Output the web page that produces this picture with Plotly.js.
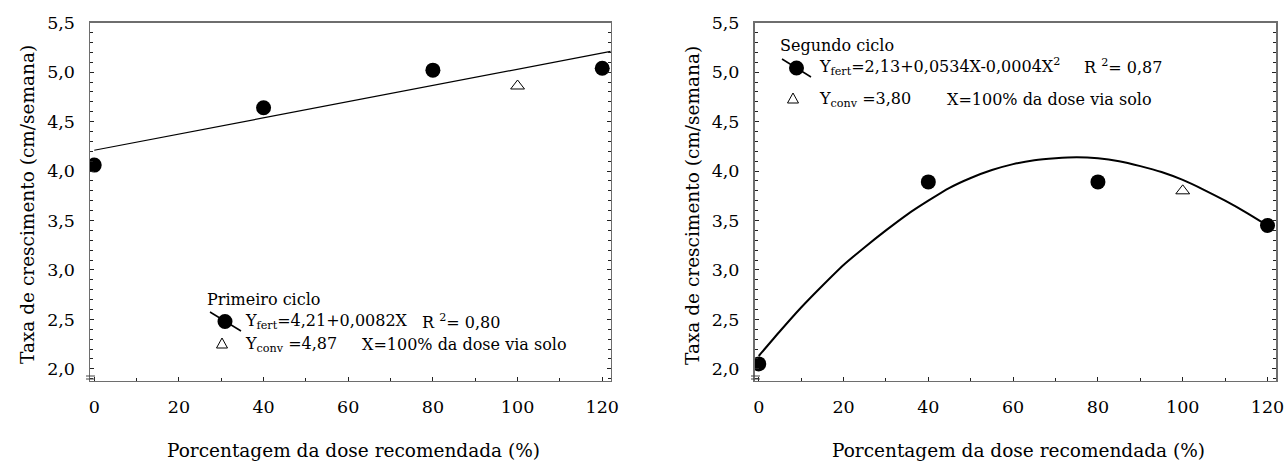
<!DOCTYPE html>
<html>
<head>
<meta charset="utf-8">
<script src="https://cdn.plot.ly/plotly-3.0.1.min.js"></script>
<style>html,body{margin:0;padding:0;background:#fff;}#chart{width:1286px;height:463px;}</style>
</head>
<body>
<div id="chart"></div>
<script>
// ---- data ----
const doses = [0, 40, 80, 120];
const fert1 = [4.06, 4.64, 5.02, 5.04];
const convDose = [100];
const conv1 = [4.86];
const fit1Dose = [0, 122];
const fit1 = [4.21, 5.21];

const fert2 = [2.05, 3.89, 3.89, 3.45];
const conv2 = [3.80];
const fit2Dose = [0, 5, 10, 15, 20, 25, 30, 35, 40, 45, 50, 55, 60, 65, 70, 75, 80, 85, 90, 95, 100, 105, 110, 115, 120];
const fit2 = [2.13, 2.38, 2.62, 2.84, 3.05, 3.23, 3.40, 3.56, 3.70, 3.83, 3.93, 4.01, 4.07, 4.11, 4.13, 4.14, 4.13, 4.10, 4.05, 3.99, 3.91, 3.81, 3.70, 3.58, 3.45];

const xTickVals = [0, 20, 40, 60, 80, 100, 120];
const yTickVals = [2.0, 2.5, 3.0, 3.5, 4.0, 4.5, 5.0, 5.5];
const yTickText = ['2,0', '2,5', '3,0', '3,5', '4,0', '4,5', '5,0', '5,5'];

const xTitle = 'Porcentagem da dose recomendada (%)';
const yTitle = 'Taxa de crescimento (cm/semana)';

// ---- layout helpers (pixel -> paper) ----
const W = 1286, H = 463;
const px = v => v / W;
const py = v => 1 - v / H;
const FONT = 'DejaVu Serif';

const traces = [
  {x: fit1Dose, y: fit1, mode: 'lines', line: {color: '#000', width: 1.2}, xaxis: 'x', yaxis: 'y'},
  {x: doses, y: fert1, mode: 'markers', marker: {symbol: 'circle', size: 15, color: '#000'}, xaxis: 'x', yaxis: 'y'},
  {x: convDose, y: conv1, mode: 'markers', marker: {symbol: 'triangle-up-open', size: 12, color: '#000', line: {width: 1, color: '#000'}}, xaxis: 'x', yaxis: 'y'},
  {x: fit2Dose, y: fit2, mode: 'lines', line: {color: '#000', width: 2, shape: 'spline', smoothing: 0.6}, xaxis: 'x2', yaxis: 'y2'},
  {x: doses, y: fert2, mode: 'markers', marker: {symbol: 'circle', size: 15, color: '#000'}, xaxis: 'x2', yaxis: 'y2'},
  {x: convDose, y: conv2, mode: 'markers', marker: {symbol: 'triangle-up-open', size: 12, color: '#000', line: {width: 1, color: '#000'}}, xaxis: 'x2', yaxis: 'y2'}
];

function xAxis(domain, anchor) {
  return {
    domain: domain, anchor: anchor, range: [-1, 122],
    tickvals: xTickVals, ticktext: xTickVals.map(String),
    ticks: 'inside', ticklen: 4, tickwidth: 1, tickcolor: '#222',
    minor: {dtick: 10, tick0: 0, ticks: 'inside', ticklen: 3, tickcolor: '#222', showgrid: false},
    showline: true, linecolor: '#6e6e6e', linewidth: 1.5, mirror: true,
    showgrid: false, zeroline: false,
    tickfont: {family: FONT, size: 17.5, color: '#000'},
    ticklabelstandoff: 10
  };
}
function yAxis(domain, anchor) {
  return {
    domain: domain, anchor: anchor, range: [1.88, 5.5],
    tickvals: yTickVals, ticktext: yTickText,
    ticks: 'inside', ticklen: 4, tickwidth: 1, tickcolor: '#222',
    minor: {dtick: 0.1, tick0: 0, ticks: 'inside', ticklen: 3, tickcolor: '#222', showgrid: false},
    showline: true, linecolor: '#6e6e6e', linewidth: 1.5, mirror: 'ticks',
    showgrid: false, zeroline: false,
    tickfont: {family: FONT, size: 17.5, color: '#000'},
    ticklabelstandoff: 10
  };
}

const yDom = [py(380.7), py(22.7)];
const leftDom = [px(90), px(610.7)];
const rightDom = [px(754.5), px(1276)];

function ann(text, x, y, opts) {
  return Object.assign({
    text: text, xref: 'paper', yref: 'paper', x: px(x), y: py(y),
    xanchor: 'left', yanchor: 'middle', showarrow: false,
    font: {family: FONT, size: 16, color: '#000'}
  }, opts || {});
}
const TF = {family: FONT, size: 18.5, color: '#000'};

const annotations = [
  // axis titles
  ann(xTitle, (90 + 610.7) / 2 + 3, 450, {xanchor: 'center', font: TF}),
  ann(xTitle, (754.5 + 1276) / 2 + 3, 450, {xanchor: 'center', font: TF}),
  ann(yTitle, 27, 205, {xanchor: 'center', textangle: -90, font: TF}),
  ann(yTitle, 692, 205, {xanchor: 'center', textangle: -90, font: TF}),
  // left legend
  ann('Primeiro ciclo', 205, 299),
  ann('Y<sub>fert</sub>=4,21+0,0082X', 243, 321),
  ann('R <sup>2</sup>= 0,80', 420, 321),
  ann('Y<sub>conv</sub> =4,87', 243, 344),
  ann('X=100% da dose via solo', 360, 344),
  // right legend
  ann('Segundo ciclo', 778, 45),
  ann('Y<sub>fert</sub>=2,13+0,0534X-0,0004X<sup>2</sup>', 817, 67),
  ann('R <sup>2</sup>= 0,87', 1082, 67),
  ann('Y<sub>conv</sub> =3,80', 817, 99),
  ann('X=100% da dose via solo', 945, 99)
];

function circleShape(cx, cy, r) {
  return {type: 'circle', xref: 'paper', yref: 'paper', x0: px(cx - r), x1: px(cx + r), y0: py(cy + r), y1: py(cy - r),
    fillcolor: '#000', line: {color: '#000', width: 0}};
}
function lineShape(x0, y0, x1, y1, color, width) {
  return {type: 'line', xref: 'paper', yref: 'paper', x0: px(x0), y0: py(y0), x1: px(x1), y1: py(y1),
    line: {color: color || '#000', width: width || 1.5}};
}
function triShape(cx, cy, w, h) {
  const p = 'M ' + px(cx - w / 2) + ' ' + py(cy + h / 2) + ' L ' + px(cx + w / 2) + ' ' + py(cy + h / 2) +
            ' L ' + px(cx) + ' ' + py(cy - h / 2) + ' Z';
  return {type: 'path', xref: 'paper', yref: 'paper', path: p, fillcolor: 'rgba(0,0,0,0)', line: {color: '#000', width: 1}};
}

const shapes = [
  lineShape(210, 312, 241, 331), circleShape(225, 321.5, 7.5), triShape(222, 343, 11, 10),
  lineShape(782, 59, 811, 77), circleShape(796.5, 68, 7.5), triShape(793, 98, 11, 10),
  // small axis-break marks at the bottom of the y axes
  lineShape(86, 376, 95, 376, '#444', 1), lineShape(86, 379, 95, 379, '#444', 1),
  lineShape(751, 376, 760, 376, '#444', 1), lineShape(751, 379, 760, 379, '#444', 1)
];

const layout = {
  width: W, height: H, margin: {l: 0, r: 0, t: 0, b: 0},
  paper_bgcolor: '#fff', plot_bgcolor: '#fff', showlegend: false,
  xaxis: xAxis(leftDom, 'y'), yaxis: yAxis(yDom, 'x'),
  xaxis2: xAxis(rightDom, 'y2'), yaxis2: yAxis(yDom, 'x2'),
  annotations: annotations, shapes: shapes,
  font: {family: FONT, color: '#000'}
};

Plotly.newPlot('chart', traces, layout, {displayModeBar: false, staticPlot: true});
</script>
</body>
</html>
